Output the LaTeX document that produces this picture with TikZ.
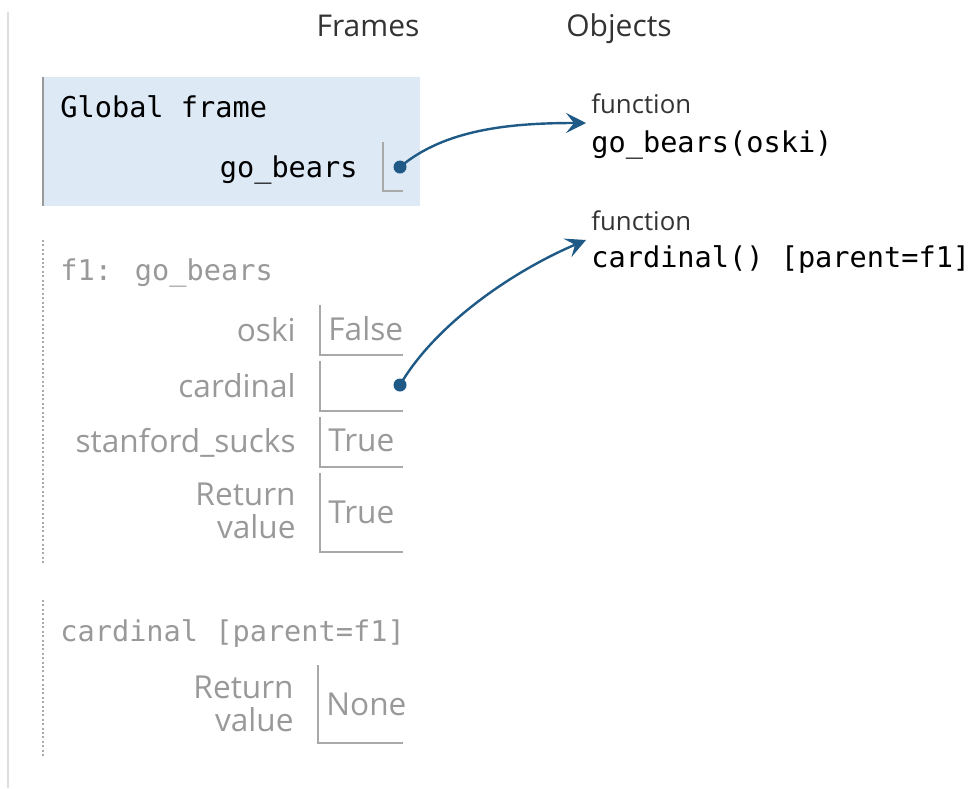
\documentclass[tikz,border=0pt]{standalone}
\usepackage{fontspec}
\setmainfont{Open Sans}
\newfontfamily\codefont{DejaVu Sans Mono}
\usetikzlibrary{arrows.meta,positioning}
\definecolor{framebg}{HTML}{DDE9F5}
\definecolor{ptrblue}{HTML}{1F5A87}
\definecolor{boxgray}{HTML}{A9A9A9}
\definecolor{lblgray}{HTML}{999999}
\definecolor{headgray}{HTML}{333333}
\newcommand{\lblfont}{\fontsize{15.8}{16.5}\selectfont}
\newcommand{\monofont}{\codefont\fontsize{14.3}{16}\selectfont}

\begin{document}
\begin{tikzpicture}[x=0.5pt,y=-0.5pt,
    header/.style={anchor=base,text=headgray,font=\fontsize{15}{17}\selectfont,inner sep=0pt},
    frametitle/.style={anchor=base west,font=\monofont,inner sep=0pt},
    varname/.style={anchor=base east,text=lblgray,font=\lblfont,inner sep=0pt},
    retname/.style={anchor=east,text=lblgray,font=\lblfont,align=right,inner sep=0pt},
    varval/.style={anchor=base west,text=lblgray,font=\lblfont,inner sep=0pt},
    valbox/.style={draw=boxgray,line width=1pt},
    framebar/.style={line width=1pt,draw=boxgray,dash pattern=on 1pt off 1.2pt},
    objkind/.style={anchor=base west,text=headgray,font=\fontsize{12.9}{14}\selectfont,inner sep=0pt},
    objname/.style={anchor=base west,font=\monofont,inner sep=0pt},
    ptrdot/.style={circle,fill=ptrblue,inner sep=0pt,minimum size=6.5pt},
    ptr/.style={draw=ptrblue,line width=1.2pt,-{Stealth[length=10pt,width=10pt,inset=4pt]}}]
  \useasboundingbox (0,0) rectangle (974,788);
  \begin{scope}
    \draw[line width=1.2pt,black!13] (8,12) -- (8,788); % page rule
    \node[header] (frames) at (368,36) {Frames};
    \node[header] (objects) at (619,36) {Objects};
  \end{scope}
  \begin{scope}
    \fill[framebg] (43,77) rectangle (420,206);
    \draw[line width=1pt,black!40] (43,77) -- (43,206);
    \node[frametitle] (gtitle) at (60,117) {Global frame};
    \node[frametitle] (gname) at (358,177) [anchor=base east] {go\_bears};
    \draw[valbox] (383,142) |- (403,191);
    \node[ptrdot] (gdot) at (400,167) {};
  \end{scope}
  \begin{scope}
    \draw[framebar] (43,240) -- (43,565);
    \node[frametitle,text=lblgray] (ftitle) at (60,280) {f1: go\_bears};
    \node[varname] (oski) at (296,341) {oski};
    \node[varname] (card) at (296,397) {cardinal};
    \node[varname] (sucks) at (296,452) {stanford\_sucks};
    \node[retname] (fret) at (296,511) {Return\\value};
    \draw[valbox] (320,305) |- (403,355); % oski
    \draw[valbox] (320,361) |- (403,411); % cardinal
    \draw[valbox] (320,417) |- (403,467); % stanford_sucks
    \draw[valbox] (320,473) |- (403,552); % return value
    \node[varval] (oskival) at (328,340) {False};
    \node[varval] (sucksval) at (328,451) {True};
    \node[varval] (fretval) at (328,523) {True};
    \node[ptrdot] (cdot) at (400,385) {};
  \end{scope}
  \begin{scope}
    \draw[framebar] (43,600) -- (43,758);
    \node[frametitle,text=lblgray] (ctitle) at (60,641) {cardinal [parent=f1]};
    \node[retname] (cret) at (294,704) {Return\\value};
    \draw[valbox] (318,665) |- (403,743); % return value
    \node[varval] (cretval) at (326,715) {None};
  \end{scope}
  \begin{scope}
    \node[objkind] (kind1) at (591,113) {function};
    \node[objname] (obj1) at (591,152) {go\_bears(oski)};
    \node[objkind] (kind2) at (591,230) {function};
    \node[objname] (obj2) at (591,267) {cardinal() [parent=f1]};
    \coordinate (obj1in) at (586,123);
    \coordinate (obj2in) at (586,240);
  \end{scope}
  \begin{scope}
    \draw[ptr] (gdot.center) .. controls +(45,-38) and +(-75,0) .. (obj1in); % go_bears
    \draw[ptr] (cdot.center) .. controls +(35,-60) and +(-75,32) .. (obj2in); % cardinal
  \end{scope}
\end{tikzpicture}
\end{document}
